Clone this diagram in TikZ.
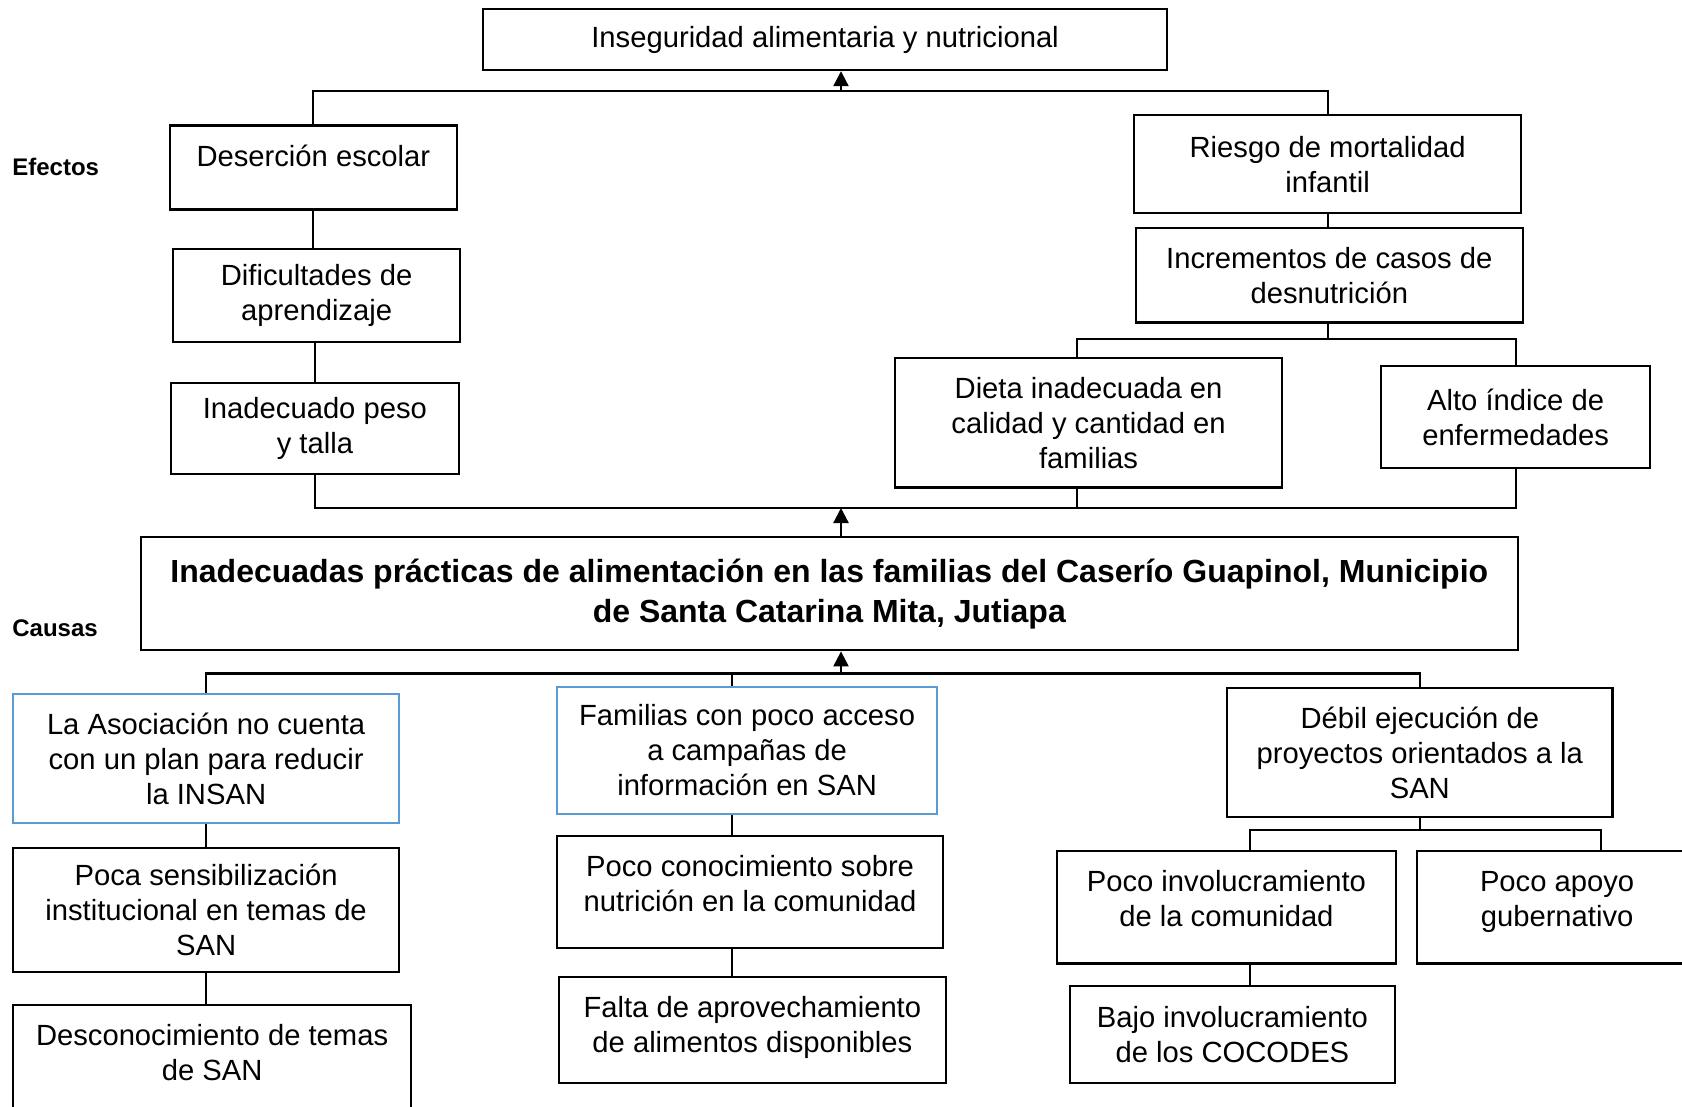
\documentclass[tikz,border=0pt]{standalone}
\usepackage{fontspec}
\setmainfont{Liberation Sans}
\usepackage{tikz}
\usetikzlibrary{arrows.meta,positioning,calc}
\definecolor{asoblue}{RGB}{91,155,213}

\begin{document}
\begin{tikzpicture}[x=0.5pt, y=-0.5pt,
    box/.style={rectangle, draw, line width=1.1pt, anchor=north west, align=center, inner sep=0pt, font=\fontsize{14.6}{17.5}\selectfont},
    topbox/.style 2 args={rectangle, draw, line width=1.1pt, anchor=north west, inner sep=0pt, font=\fontsize{14.6}{17.5}\selectfont,
        execute at begin node={\begin{minipage}[c][#2][t]{#1}\centering\vspace{8pt}\strut},
        execute at end node={\end{minipage}}},
    link/.style={line width=1.1pt},
    up/.style={line width=1.1pt, -{Triangle[width=7.5pt,length=7.5pt]}},
    lbl/.style={font=\fontsize{12}{14}\selectfont\bfseries, anchor=west, inner sep=0pt},
]
    \useasboundingbox (0,0) rectangle (1682,1107);

    % efectos
    \node[box, minimum width=342pt, minimum height=30.5pt] (ins) at (482,8) {Inseguridad alimentaria y nutricional};
    \node[lbl] (efectos) at (12,167) {Efectos};
    \node[topbox={143.75pt}{42pt}] (des) at (168.5,124.5) {Deserción escolar};
    \node[box, minimum width=143.5pt, minimum height=46.5pt] (dif) at (172,248) {Dificultades de\\aprendizaje};
    \node[box, minimum width=143.8pt, minimum height=45.25pt] (ina) at (170,382) {Inadecuado peso\\y talla};
    \node[box, minimum width=193.5pt, minimum height=49pt] (rie) at (1133,114) {Riesgo de mortalidad\\infantil};
    \node[box, minimum width=193.7pt, minimum height=47.2pt] (inc) at (1134.5,227) {Incrementos de casos de\\desnutrición};
    \node[box, minimum width=193.5pt, minimum height=64.7pt] (die) at (894,357) {Dieta inadecuada en\\calidad y cantidad en\\familias};
    \node[box, minimum width=134.5pt, minimum height=51pt] (alt) at (1380,365) {Alto índice de\\enfermedades};

    % problema central
    \node[box, minimum width=688.75pt, minimum height=56.6pt, font=\fontsize{16}{20}\selectfont\bfseries] (main) at (139.5,536)
        {Inadecuadas prácticas de alimentación en las familias del Caserío Guapinol, Municipio\\de Santa Catarina Mita, Jutiapa};

    % causas
    \node[lbl] (causas) at (12,628) {Causas};
    \node[box, draw=asoblue, minimum width=193pt, minimum height=64.5pt] (aso) at (12,693) {La Asociación no cuenta\\con un plan para reducir\\la INSAN};
    \node[box, minimum width=193pt, minimum height=61.8pt] (sen) at (12,847) {Poca sensibilización\\institucional en temas de\\SAN};
    \node[topbox={199pt}{68pt}] (dco) at (12,1004) {Desconocimiento de temas\\de SAN};
    \node[box, draw=asoblue, minimum width=190pt, minimum height=63.75pt] (fam) at (556,685.5) {Familias con poco acceso\\a campañas de\\información en SAN};
    \node[topbox={193pt}{56pt}] (con) at (556,835) {Poco conocimiento sobre\\nutrición en la comunidad};
    \node[topbox={193.25pt}{53pt}] (fal) at (558,976) {Falta de aprovechamiento\\de alimentos disponibles};
    \node[box, minimum width=192.7pt, minimum height=64.5pt] (deb) at (1226,687) {Débil ejecución de\\proyectos orientados a la\\SAN};
    \node[topbox={169.3pt}{56.2pt}] (pin) at (1056,850) {Poco involucramiento\\de la comunidad};
    \node[topbox={140pt}{56.2pt}] (pap) at (1416,850) {Poco apoyo\\gubernativo};
    \node[box, minimum width=162.3pt, minimum height=48.5pt] (baj) at (1069,985) {Bajo involucramiento\\de los COCODES};

    % uniones
    \coordinate (ej) at (841,91);
    \coordinate (rj) at (1328,339);
    \coordinate (diex) at (1077,339);
    \coordinate (cj) at (841,508);
    \coordinate (kj) at (841,673.5);
    \coordinate (famx) at (732,673.5);
    \coordinate (pinx) at (1250,830);
    \coordinate (papx) at (1601,830);

    \draw[link] (des.north) |- (ej) -| (rie.north);
    \draw[up] (ej) -- (ej |- ins.south);
    \draw[link] (des.south) -- (des.south |- dif.north);
    \draw[link] (ina.north |- dif.south) -- (ina.north);
    \draw[link] (rie.south) -- (rie.south |- inc.north);
    \draw[link] (rj |- inc.south) -- (rj);
    \draw[link] (diex |- die.north) |- (rj) -| (alt.north);
    \draw[link] (ina.south) |- (cj) -| (alt.south);
    \draw[link] (diex |- die.south) -- (diex |- cj);
    \draw[up] (cj |- main.north) -- (cj);

    \draw[link] (aso.north) |- (kj) -| (deb.north);
    \draw[up] (kj) -- (kj |- main.south);
    \draw[link] (famx) -- (famx |- fam.north);
    \draw[link] (aso.south) -- (sen.north);
    \draw[link] (sen.south) -- (sen.south |- dco.north);
    \draw[link] (famx |- fam.south) -- (famx |- con.north);
    \draw[link] (famx |- con.south) -- (famx |- fal.north);
    \draw[link] (deb.south) -- (deb.south |- pinx);
    \draw[link] (pinx |- pin.north) |- (papx) -- (papx |- pap.north);
    \draw[link] (pinx |- pin.south) -- (pinx |- baj.north);
\end{tikzpicture}
\end{document}
